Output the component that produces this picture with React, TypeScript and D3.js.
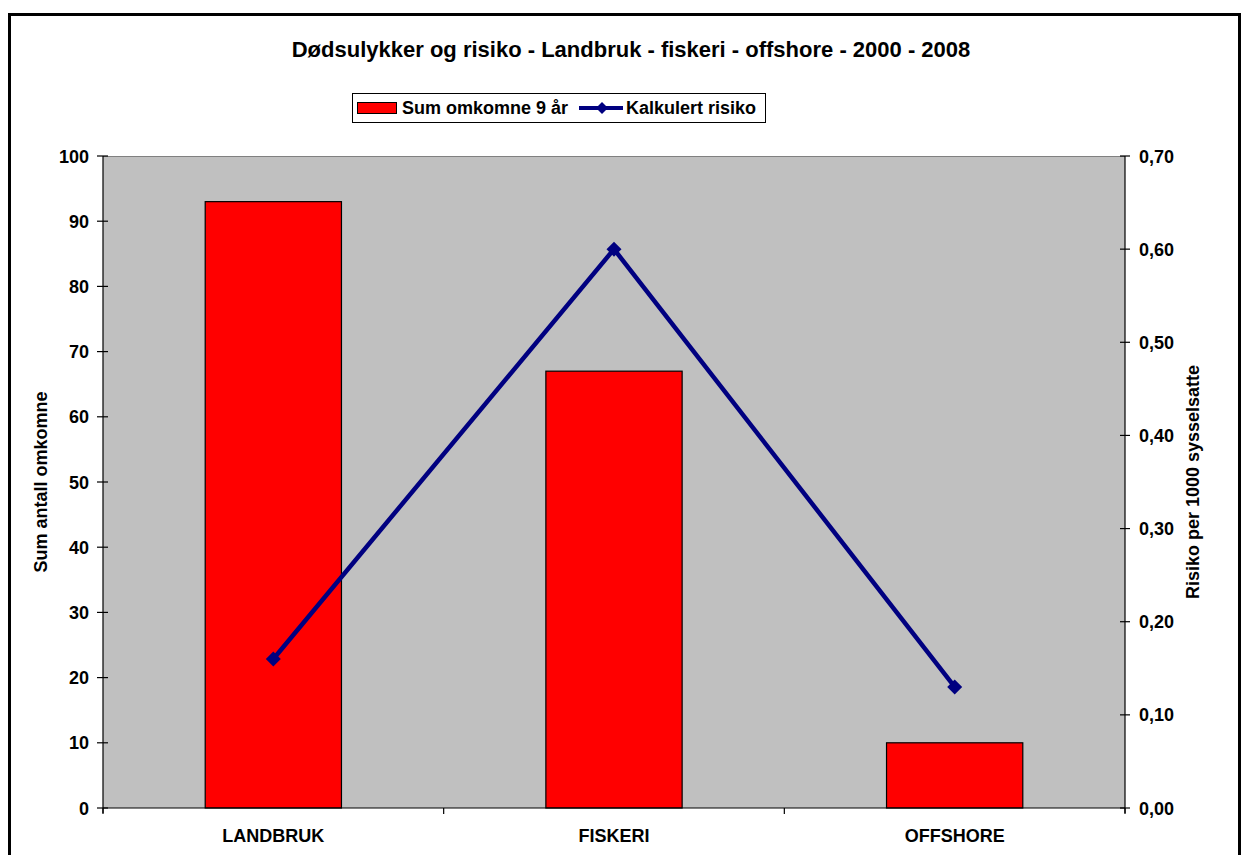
import React from 'react';
import * as d3 from 'd3';

const categories = ['LANDBRUK', 'FISKERI', 'OFFSHORE'];
const deaths = [93, 67, 10];
const risk = [0.16, 0.6, 0.13];
const leftTicks = [0, 10, 20, 30, 40, 50, 60, 70, 80, 90, 100];
const rightTicks = [0, 0.1, 0.2, 0.3, 0.4, 0.5, 0.6, 0.7];

const W = 1243;
const H = 855;
const plot = { left: 103, right: 1125, top: 156, bottom: 808 };
const font = 'Liberation Sans, Arial, sans-serif';

const App: React.FC = () => {
  const x = d3.scaleBand<string>()
    .domain(categories)
    .range([plot.left, plot.right])
    .padding(0);
  const yL = d3.scaleLinear().domain([0, 100]).range([plot.bottom, plot.top]);
  const yR = d3.scaleLinear().domain([0, 0.7]).range([plot.bottom, plot.top]);
  const barW = x.bandwidth() * 0.4;
  const cx = (c: string) => (x(c) || 0) + x.bandwidth() / 2;

  const line = d3.line<number>()
    .x((_, i) => cx(categories[i]))
    .y(d => yR(d));

  const diamond = (px: number, py: number, r: number) =>
    `M${px},${py - r}L${px + r},${py}L${px},${py + r}L${px - r},${py}Z`;

  const fmt = (v: number) => v.toFixed(2).replace('.', ',');

  return (
    <svg width={W} height={H} style={{ position: 'absolute', left: 0, top: 0, fontFamily: font }}>
      <rect x={0} y={0} width={W} height={H} fill="white" />
      <rect x={9.5} y={14.5} width={1230} height={860} fill="none" stroke="black" strokeWidth={3} />

      <text x={631} y={57} textAnchor="middle" fontSize={22} fontWeight="bold">
        Dødsulykker og risiko - Landbruk - fiskeri - offshore - 2000 - 2008
      </text>

      {/* legend */}
      <g>
        <rect x={352.5} y={93.5} width={413} height={29} fill="white" stroke="black" strokeWidth={1} />
        <rect x={357.5} y={102.5} width={39} height={11} fill="#FF0000" stroke="black" strokeWidth={1} />
        <text x={402} y={114} fontSize={18} fontWeight="bold">Sum omkomne 9 år</text>
        <line x1={579} x2={623} y1={108} y2={108} stroke="#000080" strokeWidth={4} />
        <path d={diamond(602, 108, 6)} fill="#000080" />
        <text x={626} y={114} fontSize={18} fontWeight="bold">Kalkulert risiko</text>
      </g>

      {/* plot area */}
      <rect x={plot.left} y={plot.top} width={plot.right - plot.left} height={plot.bottom - plot.top} fill="#C0C0C0" />
      <line x1={plot.left} x2={plot.right} y1={plot.top + 0.5} y2={plot.top + 0.5} stroke="#808080" strokeWidth={1} />

      {/* bars */}
      {categories.map((c, i) => (
        <rect key={c} x={cx(c) - barW / 2} y={yL(deaths[i])} width={barW}
          height={yL(0) - yL(deaths[i])} fill="#FF0000" stroke="black" strokeWidth={1.2} />
      ))}

      {/* axes */}
      <line x1={plot.left} x2={plot.left} y1={plot.top} y2={plot.bottom + 5} stroke="black" strokeWidth={1.2} />
      <line x1={plot.right} x2={plot.right} y1={plot.top} y2={plot.bottom + 5} stroke="black" strokeWidth={1.2} />
      <line x1={plot.left} x2={plot.right} y1={plot.bottom} y2={plot.bottom} stroke="black" strokeWidth={1.2} />

      {leftTicks.map(t => (
        <g key={'l' + t}>
          <line x1={plot.left - 6} x2={plot.left + 5} y1={yL(t)} y2={yL(t)} stroke="black" strokeWidth={1.2} />
          <text x={89} y={yL(t) + 6.5} textAnchor="end" fontSize={18} fontWeight="bold">{t}</text>
        </g>
      ))}
      {rightTicks.map(t => (
        <g key={'r' + t}>
          <line x1={plot.right - 5} x2={plot.right + 5} y1={yR(t)} y2={yR(t)} stroke="black" strokeWidth={1.2} />
          <text x={1139} y={yR(t) + 6.5} textAnchor="start" fontSize={18} fontWeight="bold">{fmt(t)}</text>
        </g>
      ))}
      {[...categories.map(c => x(c) || 0), plot.right].map((v, i) => (
        <line key={'x' + i} x1={v} x2={v} y1={plot.bottom} y2={plot.bottom + 6} stroke="black" strokeWidth={1.2} />
      ))}
      {categories.map(c => (
        <text key={'c' + c} x={cx(c)} y={842} textAnchor="middle" fontSize={18} fontWeight="bold">{c}</text>
      ))}

      {/* axis titles */}
      <text transform={`translate(47,${(plot.top + plot.bottom) / 2}) rotate(-90)`} textAnchor="middle"
        fontSize={18} fontWeight="bold">Sum antall omkomne</text>
      <text transform={`translate(1199,${(plot.top + plot.bottom) / 2}) rotate(-90)`} textAnchor="middle"
        fontSize={18} fontWeight="bold">Risiko per 1000 sysselsatte</text>

      {/* risk line */}
      <path d={line(risk) || ''} fill="none" stroke="#000080" strokeWidth={4.5} />
      {risk.map((r, i) => (
        <path key={'m' + i} d={diamond(cx(categories[i]), yR(r), 7.5)} fill="#000080" />
      ))}
    </svg>
  );
};

export default App;
